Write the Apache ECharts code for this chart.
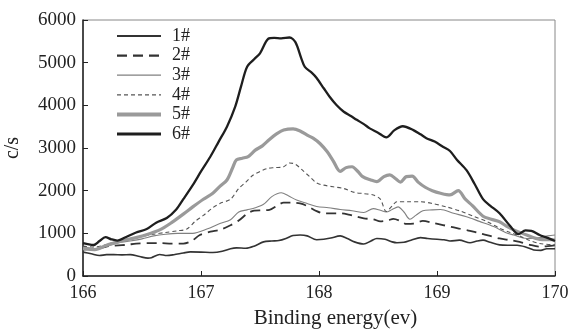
<!DOCTYPE html>
<html><head><meta charset="utf-8">
<script src="https://cdn.jsdelivr.net/npm/echarts@6/dist/echarts.min.js"></script>
<style>html,body{margin:0;padding:0;background:#fff}#c{width:571px;height:329px}</style>
</head><body><div id="c"></div>
<script>
const seriesNames = ['1#','2#','3#','4#','5#','6#'];
const xTicks = [166,167,168,169,170];
const yTicks = [0,1000,2000,3000,4000,5000,6000];

const s1 = [[166.00,560],[166.07,520],[166.14,480],[166.20,500],[166.26,500],[166.33,495],[166.40,500],[166.48,455],[166.55,420],[166.58,430],[166.65,505],[166.71,480],[166.77,500],[166.85,540],[166.91,565],[167.00,560],[167.10,550],[167.18,580],[167.25,640],[167.30,660],[167.38,650],[167.45,700],[167.53,800],[167.60,820],[167.66,830],[167.72,880],[167.78,950],[167.84,960],[167.90,940],[167.98,850],[168.04,860],[168.10,890],[168.18,940],[168.24,880],[168.30,800],[168.38,750],[168.44,820],[168.49,880],[168.56,860],[168.62,800],[168.66,780],[168.72,790],[168.78,840],[168.86,900],[168.92,880],[169.00,860],[169.06,850],[169.11,820],[169.19,840],[169.28,780],[169.34,820],[169.39,840],[169.45,790],[169.53,730],[169.60,720],[169.68,720],[169.75,680],[169.82,610],[169.88,600],[169.93,640],[170.00,640]];
const s2 = [[166.00,620],[166.08,640],[166.15,660],[166.22,700],[166.30,720],[166.37,730],[166.45,760],[166.55,770],[166.65,770],[166.75,760],[166.85,760],[166.92,820],[166.99,960],[167.08,1040],[167.16,1080],[167.25,1190],[167.32,1300],[167.40,1480],[167.45,1530],[167.52,1540],[167.58,1550],[167.64,1640],[167.70,1720],[167.78,1720],[167.84,1700],[167.90,1640],[167.98,1520],[168.04,1470],[168.12,1470],[168.18,1470],[168.25,1440],[168.32,1390],[168.38,1350],[168.46,1330],[168.52,1280],[168.58,1300],[168.63,1340],[168.69,1290],[168.74,1220],[168.80,1230],[168.88,1290],[168.96,1250],[169.05,1195],[169.12,1150],[169.19,1110],[169.28,1060],[169.36,1000],[169.45,940],[169.53,880],[169.62,840],[169.70,800],[169.79,730],[169.87,690],[169.94,700],[170.00,720]];
const s3 = [[166.00,690],[166.10,640],[166.20,700],[166.30,780],[166.40,820],[166.50,870],[166.60,940],[166.70,980],[166.80,1000],[166.93,1000],[167.05,1100],[167.16,1230],[167.25,1320],[167.32,1500],[167.39,1550],[167.46,1600],[167.53,1680],[167.60,1860],[167.68,1950],[167.74,1880],[167.81,1780],[167.90,1700],[167.98,1630],[168.08,1600],[168.18,1560],[168.28,1530],[168.38,1490],[168.46,1580],[168.52,1540],[168.57,1500],[168.62,1560],[168.67,1620],[168.72,1500],[168.77,1330],[168.82,1420],[168.88,1530],[168.96,1550],[169.03,1560],[169.14,1470],[169.25,1390],[169.36,1280],[169.48,1160],[169.58,1020],[169.65,960],[169.76,880],[169.87,900],[169.94,940],[170.00,960]];
const s4 = [[166.00,700],[166.10,680],[166.20,740],[166.30,820],[166.40,880],[166.50,930],[166.60,980],[166.70,1020],[166.80,1060],[166.88,1100],[166.95,1280],[167.02,1420],[167.10,1600],[167.16,1700],[167.25,1800],[167.32,2050],[167.38,2200],[167.44,2360],[167.50,2450],[167.56,2520],[167.63,2540],[167.70,2560],[167.75,2650],[167.80,2620],[167.86,2480],[167.92,2330],[167.98,2180],[168.04,2130],[168.12,2090],[168.21,2050],[168.30,1960],[168.38,1930],[168.46,1900],[168.52,1800],[168.57,1510],[168.62,1640],[168.66,1740],[168.75,1740],[168.86,1740],[168.96,1700],[169.08,1620],[169.20,1520],[169.31,1400],[169.42,1280],[169.53,1120],[169.62,1020],[169.70,940],[169.78,840],[169.87,760],[170.00,730]];
const s5 = [[166.00,640],[166.10,620],[166.20,720],[166.30,800],[166.37,850],[166.45,900],[166.55,980],[166.65,1080],[166.75,1250],[166.85,1450],[166.93,1620],[167.02,1800],[167.10,1940],[167.16,2100],[167.22,2250],[167.27,2550],[167.30,2720],[167.35,2760],[167.40,2800],[167.46,2950],[167.52,3050],[167.58,3200],[167.64,3330],[167.70,3420],[167.78,3450],[167.84,3400],[167.90,3300],[167.95,3230],[168.01,3100],[168.07,2910],[168.12,2700],[168.18,2450],[168.23,2540],[168.28,2560],[168.33,2450],[168.37,2330],[168.44,2250],[168.49,2210],[168.55,2330],[168.60,2370],[168.65,2280],[168.69,2200],[168.74,2330],[168.79,2340],[168.84,2200],[168.90,2080],[168.96,2000],[169.03,1940],[169.11,1900],[169.18,2000],[169.24,1800],[169.30,1650],[169.39,1400],[169.46,1330],[169.53,1270],[169.60,1150],[169.66,1070],[169.76,960],[169.87,860],[170.00,850]];
const s6 = [[166.00,770],[166.05,740],[166.09,727],[166.14,820],[166.19,910],[166.24,860],[166.29,830],[166.37,920],[166.45,1020],[166.54,1100],[166.62,1250],[166.71,1360],[166.79,1560],[166.85,1800],[166.93,2130],[167.00,2450],[167.08,2800],[167.15,3150],[167.22,3500],[167.29,3970],[167.34,4450],[167.39,4900],[167.45,5080],[167.50,5220],[167.57,5560],[167.62,5580],[167.68,5570],[167.75,5590],[167.80,5480],[167.85,5100],[167.88,4900],[167.94,4760],[167.98,4640],[168.04,4400],[168.09,4200],[168.15,4000],[168.21,3850],[168.27,3750],[168.32,3660],[168.38,3560],[168.43,3460],[168.50,3360],[168.57,3250],[168.64,3420],[168.71,3510],[168.80,3420],[168.86,3320],[168.91,3230],[168.98,3150],[169.05,3030],[169.11,2930],[169.17,2720],[169.25,2480],[169.32,2150],[169.39,1800],[169.45,1650],[169.53,1470],[169.62,1170],[169.69,980],[169.75,1070],[169.80,1060],[169.87,960],[169.93,900],[170.00,820]];

const data = [s1,s2,s3,s4,s5,s6];
const styles = [
  {color:'#333', width:1.6, type:'solid'},
  {color:'#333', width:1.8, type:[10,6]},
  {color:'#808080', width:1.1, type:'solid'},
  {color:'#555', width:1.1, type:[4,3]},
  {color:'#9a9a9a', width:3.2, type:'solid'},
  {color:'#1e1e1e', width:2.3, type:'solid'}
];
const legendWidths = [1.8, 2.2, 1.2, 1.2, 4, 2.8];
const font = '"Liberation Serif","DejaVu Serif",serif';
const chart = echarts.init(document.getElementById('c'));
chart.setOption({
  animation:false,
  backgroundColor:'#fff',
  grid:{left:83,right:16,top:20,bottom:53,containLabel:false,outerBoundsMode:'none',show:true,borderColor:'#888',borderWidth:1},
  legend:{
    orient:'vertical', left:115, top:26.5, padding:0, itemWidth:44, itemHeight:14, itemGap:0.6,
    data:seriesNames.map((n,i)=>({name:n, lineStyle:{width:legendWidths[i]}})),
    itemStyle:{opacity:0},
    textStyle:{fontFamily:font,fontSize:18,lineHeight:19,color:'#222',padding:[0,0,0,6]}
  },
  xAxis:{
    type:'value', min:xTicks[0], max:xTicks[xTicks.length-1], interval:1,
    name:'Binding energy(ev)', nameLocation:'middle', nameGap:32,
    nameTextStyle:{fontFamily:font,fontSize:21,color:'#222',padding:[0,0,0,33]},
    axisLine:{lineStyle:{color:'#222',width:1.5}},
    axisTick:{inside:true,length:5,lineStyle:{color:'#222'}},
    axisLabel:{fontFamily:font,fontSize:18,color:'#222',margin:8},
    splitLine:{show:false}
  },
  yAxis:{
    type:'value', min:yTicks[0], max:yTicks[yTicks.length-1], interval:1000,
    name:'c/s', nameLocation:'middle', nameGap:60, nameRotate:90,
    nameTextStyle:{fontFamily:font,fontSize:20,color:'#222'},
    axisLine:{show:true,lineStyle:{color:'#222',width:1.5}},
    axisTick:{show:true,inside:true,length:5,lineStyle:{color:'#222'}},
    axisLabel:{fontFamily:font,fontSize:19,color:'#222',margin:7,formatter:v=>String(v)},
    splitLine:{show:false}
  },
  series:data.map((d,i)=>({
    name:seriesNames[i], type:'line', data:d, symbol:'none', smooth:0.3,
    lineStyle:styles[i], itemStyle:{color:styles[i].color}, z: i===5?10:2+i
  }))
});
</script></body></html>
